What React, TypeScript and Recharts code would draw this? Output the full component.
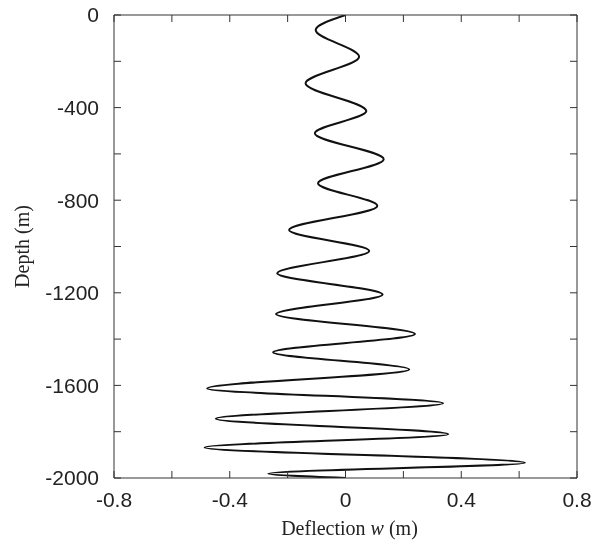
import { LineChart, Line, XAxis, YAxis } from 'recharts';

// depth (m) of each turning point along the pile, top to bottom
const depthM = [0, -65, -180, -295, -415, -511, -623, -727, -825, -929, -1019, -1116, -1207, -1292, -1378, -1457, -1531, -1613, -1677, -1744, -1811, -1868, -1934, -1981, -2000];
// deflection w (m) at those depths
const deflectionW = [0, -0.103, 0.047, -0.138, 0.072, -0.106, 0.132, -0.095, 0.11, -0.195, 0.082, -0.236, 0.128, -0.24, 0.24, -0.25, 0.22, -0.478, 0.337, -0.448, 0.355, -0.487, 0.62, -0.267, 0];

const xTicks = [-0.8, -0.6, -0.4, -0.2, 0, 0.2, 0.4, 0.6, 0.8];
const yTicks = [-2000, -1800, -1600, -1400, -1200, -1000, -800, -600, -400, -200, 0];

const data = depthM.map((d, i) => ({ depth: d, w: deflectionW[i] }));

const FRAME = '#333';
const TICK_LEN = 7;
const sans = '"Liberation Sans", Arial, sans-serif';
const serif = '"Liberation Serif", "Times New Roman", serif';

const fmtX = (v: number) => (v === 0 ? '0' : v.toFixed(1));

const BottomTick = ({ x, y, payload }: any) => {
  const v = payload.value;
  const showLabel = Math.round(v * 10) % 4 === 0;
  return (
    <g>
      <line x1={x} y1={y} x2={x} y2={y - TICK_LEN} stroke={FRAME} strokeWidth={1} />
      {showLabel && (
        <text x={x} y={y + 22} dy="0.35em" textAnchor="middle" fontFamily={sans} fontSize={21} fill="#222">
          {fmtX(v)}
        </text>
      )}
    </g>
  );
};

const TopTick = ({ x, y }: any) => (
  <line x1={x} y1={y} x2={x} y2={y + TICK_LEN} stroke={FRAME} strokeWidth={1} />
);

const LeftTick = ({ x, y, payload }: any) => {
  const v = payload.value;
  const showLabel = v % 400 === 0;
  return (
    <g>
      <line x1={x} y1={y} x2={x + TICK_LEN} y2={y} stroke={FRAME} strokeWidth={1} />
      {showLabel && (
        <text x={x - 15} y={y} dy="0.35em" textAnchor="end" fontFamily={sans} fontSize={21} fill="#222">
          {v}
        </text>
      )}
    </g>
  );
};

const RightTick = ({ x, y }: any) => (
  <line x1={x} y1={y} x2={x - TICK_LEN} y2={y} stroke={FRAME} strokeWidth={1} />
);

const XTitle = ({ viewBox }: any) => {
  const cx = viewBox.x + viewBox.width / 2 + 4;
  return (
    <text x={cx} y={535} textAnchor="middle" fontFamily={serif} fontSize={20} fill="#222">
      Deflection <tspan fontStyle="italic">w</tspan> (m)
    </text>
  );
};

const YTitle = ({ viewBox }: any) => {
  const cy = viewBox.y + viewBox.height / 2;
  return (
    <text x={29} y={cy} transform={`rotate(-90, 29, ${cy})`} textAnchor="middle" fontFamily={serif} fontSize={20} fill="#222">
      Depth (m)
    </text>
  );
};

export default function App() {
  // pin the chart to the window corner so it covers the whole 592x544 page
  return (
    <div style={{ position: 'fixed', left: 0, top: 0, width: 592, height: 544 }}>
      <LineChart
        width={592}
        height={544}
        layout="vertical"
        data={data}
        margin={{ top: 14, right: 14, bottom: 8, left: 8 }}
      >
        <XAxis
          type="number"
          xAxisId="bottom"
          orientation="bottom"
          domain={[-0.8, 0.8]}
          ticks={xTicks}
          height={58}
          tickSize={0}
          tickMargin={0}
          tickLine={false}
          tick={<BottomTick />}
          axisLine={{ stroke: FRAME }}
          label={<XTitle />}
          allowDataOverflow
        />
        <XAxis
          type="number"
          xAxisId="top"
          orientation="top"
          domain={[-0.8, 0.8]}
          ticks={xTicks}
          height={1}
          tickSize={0}
          tickMargin={0}
          tickLine={false}
          tick={<TopTick />}
          axisLine={{ stroke: FRAME }}
          allowDataOverflow
        />
        <YAxis
          type="number"
          yAxisId="left"
          orientation="left"
          dataKey="depth"
          domain={[-2000, 0]}
          ticks={yTicks}
          reversed
          width={106}
          tickSize={0}
          tickMargin={0}
          tickLine={false}
          tick={<LeftTick />}
          axisLine={{ stroke: FRAME }}
          label={<YTitle />}
          allowDataOverflow
        />
        <YAxis
          type="number"
          yAxisId="right"
          orientation="right"
          dataKey="depth"
          domain={[-2000, 0]}
          ticks={yTicks}
          reversed
          width={1}
          tickSize={0}
          tickMargin={0}
          tickLine={false}
          tick={<RightTick />}
          axisLine={{ stroke: FRAME }}
          allowDataOverflow
        />
        <Line
          xAxisId="bottom"
          yAxisId="left"
          dataKey="w"
          type="monotone"
          stroke="#111"
          strokeWidth={2}
          dot={false}
          isAnimationActive={false}
        />
      </LineChart>
    </div>
  );
}
